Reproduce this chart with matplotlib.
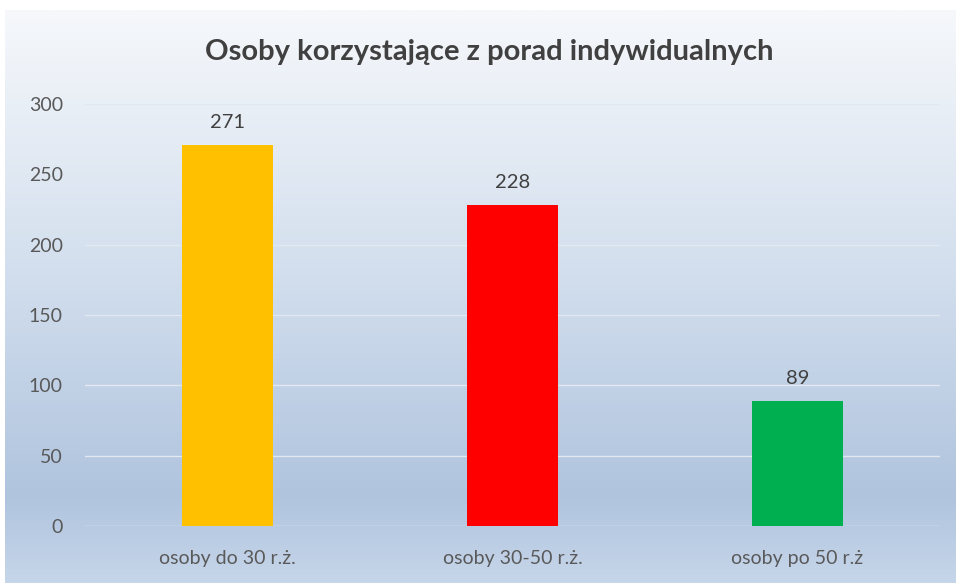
import matplotlib
matplotlib.use("Agg")
import matplotlib.pyplot as plt
import numpy as np
from matplotlib.colors import LinearSegmentedColormap

categories = ["osoby do 30 r.ż.", "osoby 30-50 r.ż.", "osoby po 50 r.ż"]
values = [271, 228, 89]
colors = ["#FFC000", "#FF0000", "#00B050"]
title = "Osoby korzystające z porad indywidualnych"
yticks = [0, 50, 100, 150, 200, 250, 300]

plt.rcParams['font.family'] = ['Lato', 'DejaVu Sans']

W, H = 956, 583
fig = plt.figure(figsize=(W / 100, H / 100), dpi=100)
fig.patch.set_facecolor("white")

# gradient background
bg = fig.add_axes([5 / W, 0, 1 - 5 / W, 1 - 10 / H], zorder=0)
cmap = LinearSegmentedColormap.from_list(
    "bg", [(0.0, "#c6d6ea"), (0.15, "#b0c4de"), (0.55, "#d3dfee"), (1.0, "#f6f8fb")])
grad = np.linspace(0, 1, 256).reshape(-1, 1)
bg.imshow(grad, aspect="auto", cmap=cmap, origin="lower", extent=[0, 1, 0, 1])
bg.axis("off")

ax = fig.add_axes([85 / W, (H - 526) / H, (940 - 85) / W, (526 - 104) / H], zorder=1)
ax.patch.set_alpha(0)
x = np.arange(len(categories))
bars = ax.bar(x, values, width=0.316, color=colors, zorder=3)
ax.set_xlim(-0.5, len(categories) - 0.5)
ax.set_ylim(0, 300)
ax.set_yticks(yticks)
ax.set_yticklabels([str(v) for v in yticks])
ax.set_xticks(x)
ax.set_xticklabels(categories)
ax.yaxis.grid(True, color="#e2e8f0", linewidth=1.0, zorder=0)
ax.set_axisbelow(True)
for s in ax.spines.values():
    s.set_visible(False)
ax.tick_params(axis="both", length=0, colors="#595959", labelsize=14)
ax.tick_params(axis="y", pad=16)
ax.tick_params(axis="x", pad=17)
for b, v in zip(bars, values):
    ax.annotate(str(v), (b.get_x() + b.get_width() / 2, v), xytext=(0, 10),
                textcoords="offset points", ha="center", va="bottom",
                fontsize=14.5, color="#404040")

fig.text(489 / W, 1 - 52 / H, title, ha="center", va="center",
         fontsize=21, fontweight="bold", color="#404040")

fig.savefig("out.png", dpi=100)
